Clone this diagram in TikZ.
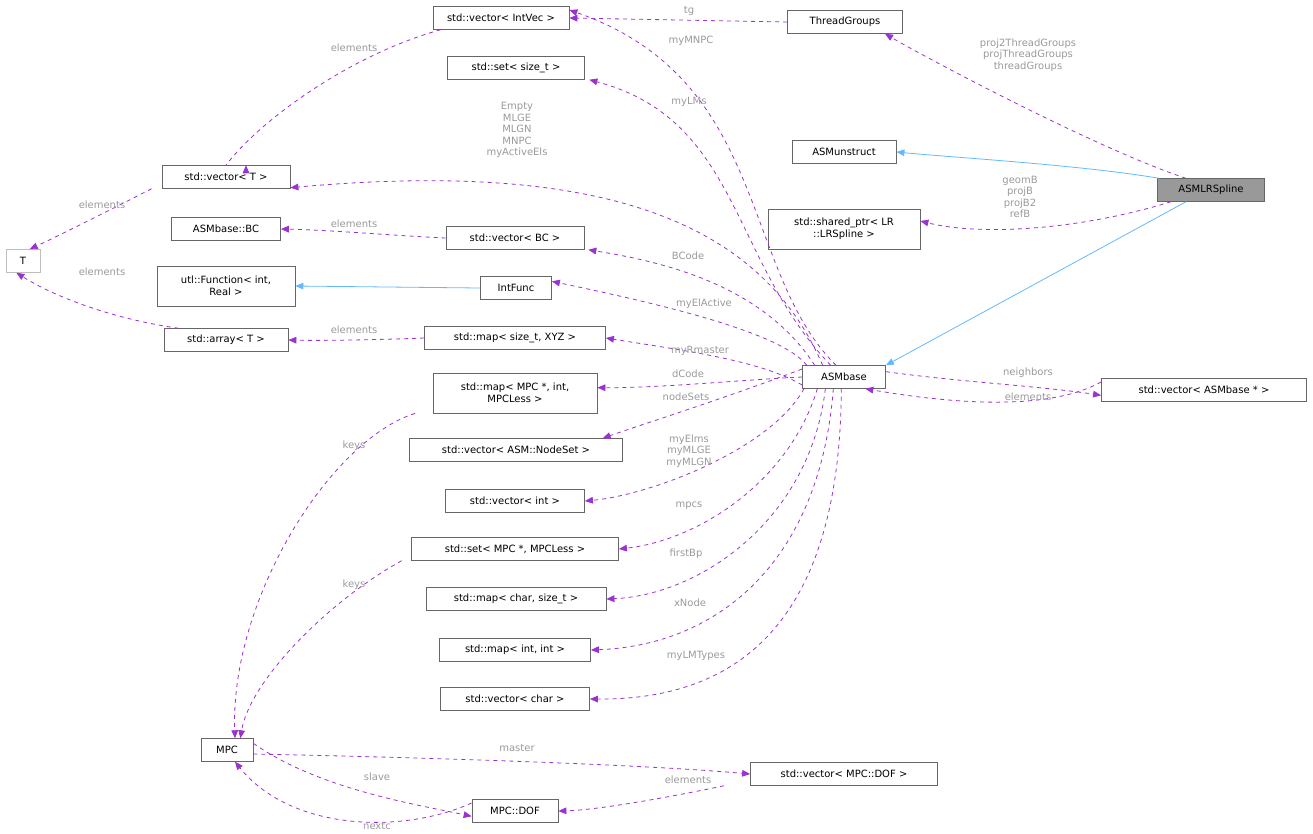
\documentclass[tikz,border=0pt]{standalone}
\usepackage{fontspec}
\setmainfont{DejaVu Sans}
\usetikzlibrary{arrows.meta}
\definecolor{pur}{HTML}{9A32CD}
\definecolor{blu}{HTML}{63B8FF}
\definecolor{lab}{HTML}{9A9A9A}
\definecolor{brd}{HTML}{666666}
\begin{document}
\begin{tikzpicture}[x=0.75pt,y=-0.75pt,
  box/.style={draw=brd,fill=white,line width=0.6pt,minimum width=#1*0.75pt,minimum height=17pt,inner sep=1pt,font=\fontsize{7.5}{9}\selectfont,align=center},
  lbl/.style={text=lab,font=\fontsize{7.5}{8.6}\selectfont,align=center,inner sep=0pt},
  mem/.style={draw=pur,dashed,line width=0.6pt,-{Triangle[length=6pt,width=5pt]}},
  inh/.style={draw=blu,line width=0.6pt,-{Triangle[length=6pt,width=5pt]}}]
\useasboundingbox (0,0) rectangle (1313,833);
% nodes
\node[box=136] (vint) at (501,18) {std::vector< IntVec >};
\node[box=115] (tg) at (845,22) {ThreadGroups};
\node[box=137] (sst) at (516,68) {std::set< size\_t >};
\node[box=104] (unst) at (844,152) {ASMunstruct};
\node[box=107,fill={rgb,255:red,153;green,153;blue,153}] (lr) at (1211,190) {ASMLRSpline};
\node[box=152,minimum height=30pt] (sp) at (844,229) {std::shared\_ptr< LR\\::LRSpline >};
\node[box=128] (vT) at (226,177) {std::vector< T >};
\node[box=34,draw={rgb,255:red,191;green,191;blue,191}] (T) at (23,261) {T};
\node[box=109] (bc) at (226,229) {ASMbase::BC};
\node[box=138] (vbc) at (515,238) {std::vector< BC >};
\node[box=138,minimum height=30pt] (fn) at (226,286) {utl::Function< int,\\Real >};
\node[box=71] (ifn) at (516,288) {IntFunc};
\node[box=124] (aT) at (226,340) {std::array< T >};
\node[box=181] (mxyz) at (515,338) {std::map< size\_t, XYZ >};
\node[box=83] (base) at (844,377) {ASMbase};
\node[box=205] (vbase) at (1204,390) {std::vector< ASMbase * >};
\node[box=164,minimum height=30pt] (mmpc) at (515,393) {std::map< MPC *, int,\\MPCLess >};
\node[box=213] (vns) at (516,450) {std::vector< ASM::NodeSet >};
\node[box=139] (vi) at (515,501) {std::vector< int >};
\node[box=207] (smpc) at (515,549) {std::set< MPC *, MPCLess >};
\node[box=180] (mcs) at (516,599) {std::map< char, size\_t >};
\node[box=151] (mii) at (515,650) {std::map< int, int >};
\node[box=149] (vc) at (515,699) {std::vector< char >};
\node[box=52] (mpc) at (227,750) {MPC};
\node[box=187] (vdof) at (844,774) {std::vector< MPC::DOF >};
\node[box=86] (dof) at (515,811) {MPC::DOF};
% inheritance
\draw[inh] (lr.north west) ++(2,0) .. controls (1080,165) and (960,158) .. (unst.east);
\draw[inh] (lr.south) ++(-25,0) -- (base.north east);
\draw[inh] (ifn.west) -- (fn.east);
% members
\draw[mem] (tg.west) -- (vint.east);
\draw[mem] (vint.south west) ++(8,0) .. controls (350,55) and (260,120) .. (vT.north) ++(20,0);
\draw[mem] (vT.south west) ++(-10,0) .. controls (110,210) and (60,235) .. ([xshift=5]T.north);
\draw[mem] (aT.north west) ++(15,0) .. controls (120,320) and (60,300) .. ([xshift=-5]T.south);
\draw[mem] (vbc.west) .. controls (400,236) and (330,230) .. (bc.east);
\draw[mem] (mxyz.west) .. controls (400,339) and (330,341) .. (aT.east);
\draw[mem] (lr.north) ++(-25,0) .. controls (1100,150) and (930,60) .. ([xshift=30]tg.south);
\draw[mem] (lr.south) ++(-40,0) .. controls (1080,230) and (980,236) .. ([yshift=6]sp.east);
\draw[mem] ([xshift=-6]base.north) .. controls (740,270) and (770,80) .. ([yshift=6]vint.east);
\draw[mem] ([xshift=-10]base.north) .. controls (730,260) and (740,120) .. ([xshift=55]sst.south);
\draw[mem] ([xshift=-16]base.north) .. controls (760,220) and (600,160) .. ([yshift=-8]vT.east);
\draw[mem] ([xshift=-22]base.north) .. controls (760,280) and (650,260) .. ([xshift=55]vbc.south);
\draw[mem] ([xshift=-28]base.north) .. controls (780,330) and (640,300) .. ([yshift=5]ifn.east);
\draw[mem] ([yshift=-6]base.west) .. controls (760,360) and (680,350) .. (mxyz.east);
\draw[mem] (base.west) .. controls (740,380) and (660,388) .. ([yshift=4]mmpc.east);
\draw[mem] ([yshift=6]base.west) .. controls (720,400) and (640,425) .. ([xshift=65]vns.north);
\draw[mem] ([xshift=-30]base.south) .. controls (770,450) and (650,495) .. (vi.east);
\draw[mem] ([xshift=-20]base.south) .. controls (790,480) and (700,540) .. (smpc.east);
\draw[mem] ([xshift=-14]base.south) .. controls (810,520) and (700,595) .. (mcs.east);
\draw[mem] ([xshift=-8]base.south) .. controls (820,560) and (720,645) .. (mii.east);
\draw[mem] ([xshift=-2]base.south) .. controls (840,620) and (740,700) .. (vc.east);
\draw[mem] ([yshift=4]base.east) .. controls (960,382) and (1040,386) .. ([yshift=-4]vbase.west);
\draw[mem] ([yshift=6]vbase.west) .. controls (1050,410) and (960,405) .. ([xshift=16]base.south);
\draw[mem] ([xshift=-75]mmpc.south) .. controls (330,440) and (230,600) .. ([xshift=6]mpc.north);
\draw[mem] ([xshift=-85]smpc.south) .. controls (330,600) and (250,680) .. ([xshift=10]mpc.north);
\draw[mem] ([yshift=-3]mpc.east) .. controls (450,758) and (650,765) .. (vdof.west);
\draw[mem] ([yshift=5]mpc.east) .. controls (320,790) and (420,805) .. ([yshift=-4]dof.west);
\draw[mem] ([yshift=6]dof.west) .. controls (400,835) and (290,830) .. ([xshift=6]mpc.south);
\draw[mem] ([xshift=-90]vdof.south) .. controls (680,795) and (600,810) .. (dof.east);
% labels
\node[lbl] at (689,11) {tg};
\node[lbl] at (354,48) {elements};
\node[lbl] at (102,205) {elements};
\node[lbl] at (102,272) {elements};
\node[lbl] at (354,224) {elements};
\node[lbl] at (354,330) {elements};
\node[lbl] at (1028,55) {proj2ThreadGroups\\projThreadGroups\\threadGroups};
\node[lbl] at (1020,197) {geomB\\projB\\projB2\\refB};
\node[lbl] at (691,41) {myMNPC};
\node[lbl] at (689,102) {myLMs};
\node[lbl] at (517,130) {Empty\\MLGE\\MLGN\\MNPC\\myActiveEls};
\node[lbl] at (688,256) {BCode};
\node[lbl] at (704,304) {myElActive};
\node[lbl] at (700,351) {myRmaster};
\node[lbl] at (688,374) {dCode};
\node[lbl] at (686,397) {nodeSets};
\node[lbl] at (689,451) {myElms\\myMLGE\\myMLGN};
\node[lbl] at (689,506) {mpcs};
\node[lbl] at (686,554) {firstBp};
\node[lbl] at (690,603) {xNode};
\node[lbl] at (696,656) {myLMTypes};
\node[lbl] at (1028,373) {neighbors};
\node[lbl] at (1028,397) {elements};
\node[lbl] at (354,446) {keys};
\node[lbl] at (354,585) {keys};
\node[lbl] at (517,748) {master};
\node[lbl] at (377,777) {slave};
\node[lbl] at (377,826) {nextc};
\node[lbl] at (688,780) {elements};
\end{tikzpicture}
\end{document}
